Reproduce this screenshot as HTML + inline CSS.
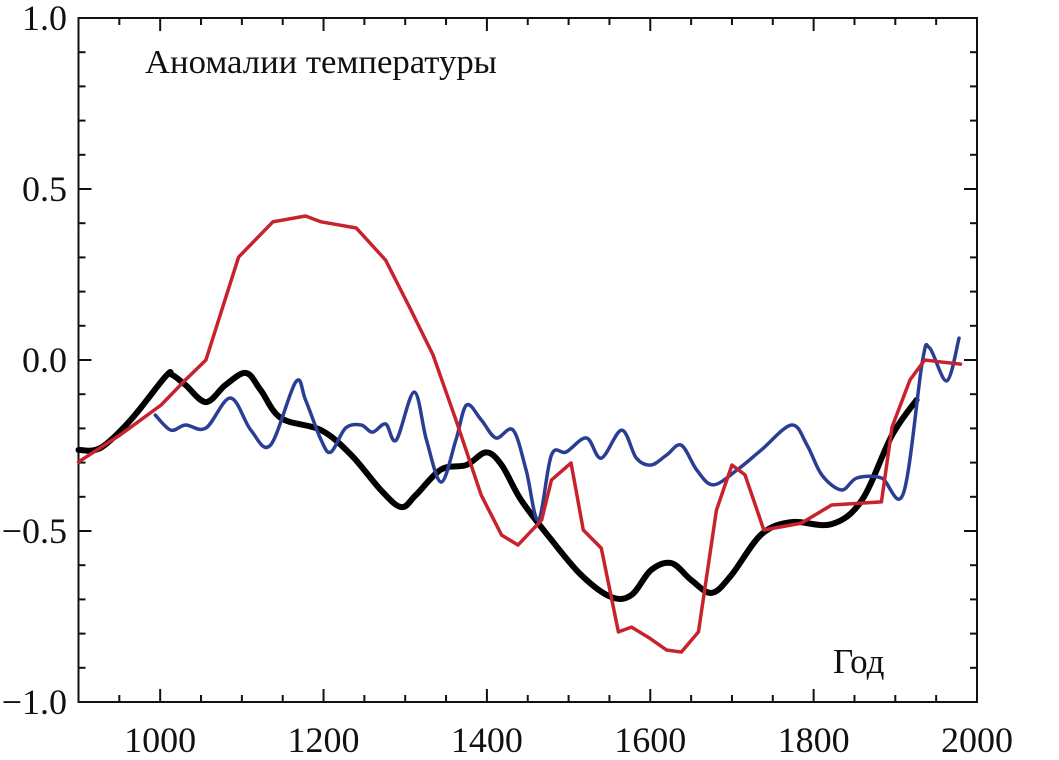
<!DOCTYPE html>
<html><head><meta charset="utf-8"><style>
html,body{margin:0;padding:0;background:#fff;}
svg{display:block;font-family:"Liberation Serif",serif;}
</style></head><body>
<svg id="chart" width="1059" height="760" viewBox="0 0 1059 760">
<g id="axes"></g>
<g id="series"></g>
<text x="145" y="73" font-size="34" fill="#111" textLength="352" lengthAdjust="spacingAndGlyphs">Аномалии температуры</text>
<text x="833" y="673" font-size="35" fill="#111">Год</text>
</svg>
<script>
const xTicks = [1000, 1200, 1400, 1600, 1800, 2000];
const yTicks = [-1.0, -0.5, 0.0, 0.5, 1.0];
const yTickLabels = ["\u22121.0", "\u22120.5", "0.0", "0.5", "1.0"];

const blackYears = [900,927,964,1007,1015,1031,1056,1080,1105,1123,1148,1197,1234,1270,1295,1313,1344,1375,1399,1418,1442,1479,1516,1552,1577,1601,1626,1650,1675,1699,1736,1773,1822,1859,1896,1926];
const blackValues = [-0.263,-0.257,-0.175,-0.047,-0.044,-0.073,-0.123,-0.073,-0.038,-0.088,-0.17,-0.205,-0.278,-0.38,-0.43,-0.395,-0.32,-0.307,-0.27,-0.307,-0.41,-0.526,-0.63,-0.693,-0.687,-0.614,-0.594,-0.643,-0.681,-0.63,-0.51,-0.474,-0.48,-0.41,-0.22,-0.117];

const redYears = [900,951,1001,1031,1056,1096,1138,1178,1197,1240,1276,1307,1334,1362,1393,1418,1438,1467,1479,1503,1518,1540,1561,1577,1599,1620,1638,1659,1681,1700,1716,1739,1785,1822,1883,1896,1918,1936,1957,1980];
const redValues = [-0.298,-0.219,-0.132,-0.058,0,0.301,0.404,0.421,0.404,0.386,0.292,0.146,0.015,-0.175,-0.395,-0.512,-0.541,-0.468,-0.351,-0.301,-0.497,-0.55,-0.795,-0.781,-0.813,-0.848,-0.854,-0.795,-0.439,-0.307,-0.336,-0.497,-0.477,-0.424,-0.415,-0.196,-0.058,0,-0.006,-0.012];

const blueYears = [994,1013,1031,1056,1086,1111,1135,1166,1178,1197,1209,1227,1246,1260,1276,1289,1311,1326,1344,1362,1375,1393,1411,1432,1448,1463,1479,1497,1522,1540,1565,1583,1601,1620,1638,1657,1677,1706,1736,1773,1792,1810,1834,1853,1883,1910,1933,1942,1963,1978];
const blueValues = [-0.161,-0.205,-0.19,-0.199,-0.111,-0.205,-0.249,-0.064,-0.117,-0.234,-0.269,-0.199,-0.19,-0.211,-0.187,-0.234,-0.094,-0.234,-0.357,-0.234,-0.132,-0.175,-0.228,-0.205,-0.322,-0.468,-0.278,-0.269,-0.228,-0.287,-0.205,-0.287,-0.307,-0.278,-0.249,-0.322,-0.365,-0.322,-0.263,-0.19,-0.249,-0.336,-0.38,-0.345,-0.345,-0.389,-0.006,0.035,-0.061,0.064];

const X0 = 78.5, X1 = 977, Y0 = 18, Y1 = 702;
const xScale = v => X0 + (v - 900) / 1100 * (X1 - X0);
const yScale = v => Y1 - (v + 1) / 2 * (Y1 - Y0);
const NS = "http://www.w3.org/2000/svg";
const axes = document.getElementById('axes');
const series = document.getElementById('series');
function mk(tag, attrs, parent) {
  const e = document.createElementNS(NS, tag);
  for (const k in attrs) e.setAttribute(k, attrs[k]);
  parent.appendChild(e);
  return e;
}
const frame = mk('rect', {x: X0, y: Y0, width: X1 - X0, height: Y1 - Y0, fill: 'none', stroke: '#111', 'stroke-width': 2}, axes);


for (let yr = 950; yr < 2000; yr += 50) {
  const major = yr % 200 === 0;
  const len = major ? 13 : 7;
  const x = xScale(yr);
  const t = mk('line', {x1: x, x2: x, y1: Y1, y2: Y1 - len, stroke: '#111', 'stroke-width': 2}, axes);
  
  
  const t2 = mk('line', {x1: x, x2: x, y1: Y0, y2: Y0 + len, stroke: '#111', 'stroke-width': 2}, axes);
  
  
}
xTicks.forEach(v => {
  const l = mk('text', {x: xScale(v), y: 752, 'font-size': 36, 'text-anchor': 'middle', fill: '#111'}, axes);
  l.textContent = v;
  
  
});
for (let i = 1; i < 20; i++) {
  const v = -1 + i * 0.1;
  const major = i % 5 === 0;
  const len = major ? 13 : 7;
  const y = yScale(v);
  const t = mk('line', {x1: X0, x2: X0 + len, y1: y, y2: y, stroke: '#111', 'stroke-width': 2}, axes);
  
  
  const t2 = mk('line', {x1: X1, x2: X1 - len, y1: y, y2: y, stroke: '#111', 'stroke-width': 2}, axes);
  
  
}
yTicks.forEach((v, i) => {
  const l = mk('text', {x: 67, y: yScale(v) + 12, 'font-size': 36, 'text-anchor': 'end', fill: '#111'}, axes);
  l.textContent = yTickLabels[i];
  
  
});
function smoothPath(xs, ys) {
  const p = xs.map((x, i) => [xScale(x), yScale(ys[i])]);
  let d = 'M' + p[0][0] + ',' + p[0][1];
  for (let i = 0; i < p.length - 1; i++) {
    const p0 = p[Math.max(0, i - 1)], p1 = p[i], p2 = p[i + 1], p3 = p[Math.min(p.length - 1, i + 2)];
    const c1 = [p1[0] + (p2[0] - p0[0]) / 6, p1[1] + (p2[1] - p0[1]) / 6];
    const c2 = [p2[0] - (p3[0] - p1[0]) / 6, p2[1] - (p3[1] - p1[1]) / 6];
    d += ' C' + c1 + ' ' + c2 + ' ' + p2;
  }
  return d;
}
function linePath(xs, ys) {
  return xs.map((x, i) => (i ? 'L' : 'M') + xScale(x) + ',' + yScale(ys[i])).join(' ');
}
const bl = mk('path', {d: smoothPath(blackYears, blackValues), fill: 'none', stroke: '#000', 'stroke-width': 6, 'stroke-linejoin': 'round', 'stroke-linecap': 'round'}, series);


const bu = mk('path', {d: smoothPath(blueYears, blueValues), fill: 'none', stroke: '#2a3f94', 'stroke-width': 3.5, 'stroke-linejoin': 'round', 'stroke-linecap': 'round'}, series);


const rd = mk('path', {d: linePath(redYears, redValues), fill: 'none', stroke: '#c8232c', 'stroke-width': 3.5, 'stroke-linejoin': 'round', 'stroke-linecap': 'round'}, series);


</script>
</body></html>
